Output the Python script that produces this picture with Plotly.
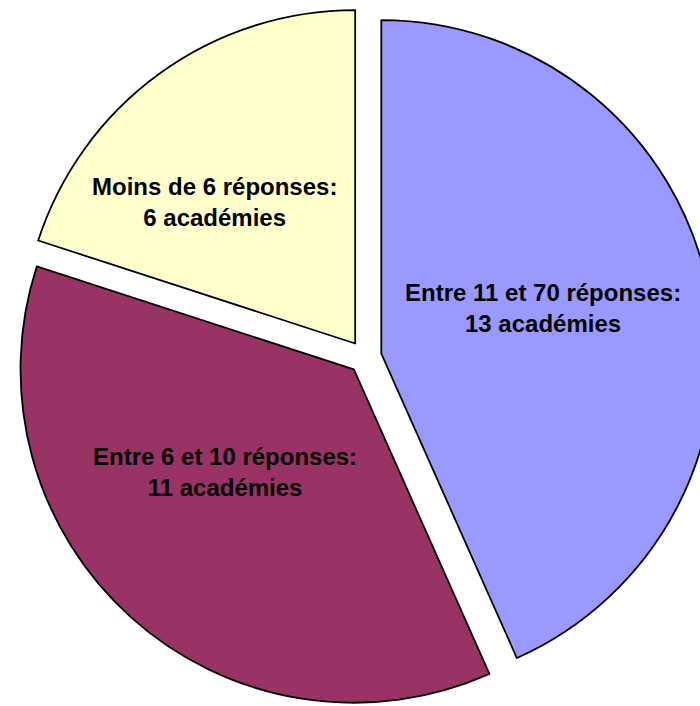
import plotly.graph_objects as go

# Data
categories = ["Entre 11 et 70 réponses", "Entre 6 et 10 réponses", "Moins de 6 réponses"]
values = [13, 11, 6]
colors = ["#9999FF", "#993366", "#FFFFCC"]

W, H = 730, 714

fig = go.Figure()

fig.add_trace(go.Pie(
    labels=categories,
    values=values,
    sort=False,
    direction="clockwise",
    rotation=0,
    pull=[0.05, 0.05, 0.05],
    textinfo="none",
    hoverinfo="label+value",
    marker=dict(colors=colors, line=dict(color="black", width=1.8)),
    domain=dict(x=[15 / W, 1 - 15 / W], y=[0, 1]),
    showlegend=False,
))

# label centres in pixels (x, y)
label_pos = [(543, 308), (225, 472), (214, 202)]
for cat, val, (px, py) in zip(categories, values, label_pos):
    fig.add_annotation(
        x=px / W, y=1 - py / H, xref="paper", yref="paper",
        text=f"<b>{cat}:<br>{val} académies</b>",
        showarrow=False, align="center",
        xanchor="center", yanchor="middle",
        font=dict(family="Liberation Sans, Arial, sans-serif", size=24, color="black"),
    )

fig.update_layout(
    width=W, height=H,
    margin=dict(l=0, r=0, t=0, b=0),
    paper_bgcolor="white",
    plot_bgcolor="white",
)

fig.write_html(
    "out.html",
    config={"displayModeBar": False},
    post_script="document.body.style.margin='0';document.body.style.overflow='hidden';",
)
